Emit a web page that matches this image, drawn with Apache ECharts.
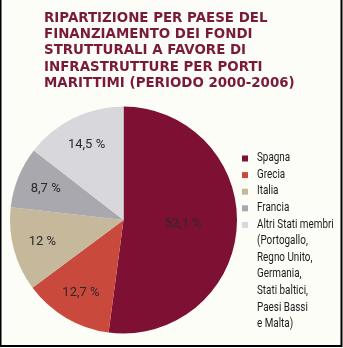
<!DOCTYPE html>
<html>
<head>
<meta charset="utf-8">
<script src="https://cdn.jsdelivr.net/npm/echarts@6/dist/echarts.min.js"></script>
<style>
html,body{margin:0;padding:0;background:#fdfdf8;}
#c{width:343px;height:348px;}
</style>
</head>
<body>
<div id="c"></div>
<script>
var titleLines = [
  'RIPARTIZIONE PER PAESE DEL',
  'FINANZIAMENTO DEI FONDI',
  'STRUTTURALI A FAVORE DI',
  'INFRASTRUTTURE PER PORTI',
  'MARITTIMI (PERIODO 2000-2006)'
];
var categories = ['Spagna', 'Grecia', 'Italia', 'Francia', 'Altri Stati membri'];
var values = [52.1, 12.7, 12, 8.7, 14.5];
var valueLabels = ['52,1 %', '12,7 %', '12 %', '8,7 %', '14,5 %'];
var colors = ['#7e1033', '#c94a3c', '#c6b89a', '#a8a8ae', '#d8d8dc'];
var legendExtra = ['(Portogallo,', 'Regno Unito,', 'Germania,', 'Stati baltici,', 'Paesi Bassi', 'e Malta)'];

var chart = echarts.init(document.getElementById('c'), null, {renderer: 'canvas'});
var labelFont = 'Roboto, sans-serif';

var mainData = categories.map(function (n, i) {
  return {
    name: n, value: values[i],
    itemStyle: {color: colors[i]},
    label: {show: i === 0, formatter: valueLabels[i]}
  };
});
var overlayData = categories.map(function (n, i) {
  return {
    name: n, value: values[i],
    itemStyle: {color: 'rgba(0,0,0,0)'},
    label: {show: i !== 0, formatter: valueLabels[i]}
  };
});

var option = {
  backgroundColor: '#fdfdf8',
  animation: false,
  graphic: [
    {type: 'rect', shape: {x: 0.5, y: -2, width: 341, height: 348}, style: {fill: 'none', stroke: '#000', lineWidth: 2}, silent: true},
    {type: 'text', left: 44, top: 10, style: {
      text: titleLines.join('\n'), font: 'bold 13.4px "DejaVu Sans"', fill: '#7a1a3a', lineHeight: 16.4
    }},
    {type: 'text', x: 257, y: 149.7, scaleX: 0.76, scaleY: 1, style: {
      text: categories.concat(legendExtra).join('\n'), font: '13px Roboto', fill: '#1a1a1a',
      lineHeight: 16.6, verticalAlign: 'top', align: 'left'
    }}
  ],
  legend: {
    orient: 'vertical',
    left: 242,
    top: 155.5,
    padding: 0,
    itemWidth: 6,
    itemHeight: 6,
    itemGap: 10.6,
    icon: 'rect',
    selectedMode: false,
    data: categories,
    formatter: function () { return ''; },
    textStyle: {fontSize: 6, lineHeight: 6, padding: 0}
  },
  series: [
    {
      type: 'pie',
      center: [123.5, 220],
      radius: [0, 113.5],
      startAngle: 90,
      clockwise: true,
      silent: true,
      label: {position: 'inside', fontFamily: labelFont, fontSize: 13, color: '#2a2a2a'},
      labelLine: {show: false},
      itemStyle: {borderWidth: 0},
      data: mainData
    },
    {
      type: 'pie',
      center: [123.5, 220],
      radius: [62, 100],
      startAngle: 90,
      clockwise: true,
      silent: true,
      legendHoverLink: false,
      label: {position: 'inside', fontFamily: labelFont, fontSize: 13, color: '#2a2a2a'},
      labelLine: {show: false},
      itemStyle: {borderWidth: 0},
      data: overlayData
    }
  ]
};
chart.setOption(option);
</script>
</body>
</html>
